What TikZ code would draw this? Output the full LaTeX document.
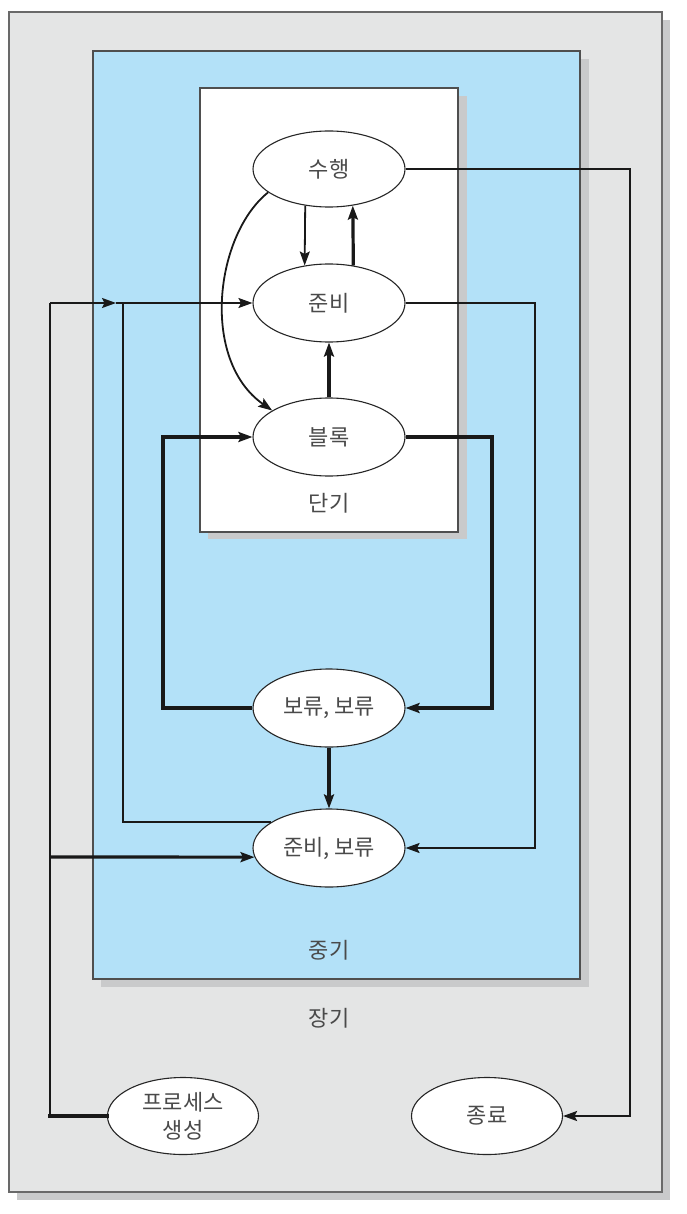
\documentclass[tikz,border=0pt]{standalone}
\usepackage{fontspec}
\setmainfont{Noto Sans CJK KR}
\usetikzlibrary{arrows.meta,shapes.geometric}
\definecolor{outergray}{HTML}{E4E5E5}
\definecolor{midblue}{HTML}{B3E1F8}
\definecolor{shadowgray}{HTML}{C9CACB}
\definecolor{edgegray}{HTML}{4F4F4F}
\definecolor{txtgray}{HTML}{4A4A4A}
\begin{document}
\begin{tikzpicture}[x=1pt,y=-1pt,
  state/.style={ellipse, draw=black!85, fill=white, line width=1.1pt,
    minimum width=152pt, minimum height=76pt, inner sep=0pt,
    font=\fontsize{22}{28}\selectfont, text=txtgray, align=center},
  lbl/.style={font=\fontsize{22}{26}\selectfont, text=txtgray},
  box/.style={draw=edgegray, line width=1.2pt},
  tip/.style={-{Stealth[length=14pt,width=10pt,inset=2.5pt]}},
  lnA/.style={line width=1.8pt, draw=black!90},
  lnB/.style={line width=3.2pt, draw=black!90},
]
\useasboundingbox (0,0) rectangle (686,1214);
\fill[white] (0,0) rectangle (686,1214);
% boxes with shadows
\fill[shadowgray] (17,20) rectangle (670,1200);
\fill[outergray] (9,12) rectangle (662,1192);
\draw[box, draw=edgegray!85] (9,12) rectangle (662,1192);
\fill[shadowgray] (101,59) rectangle (589,987);
\fill[midblue] (93,51) rectangle (580,979);
\draw[box] (93,51) rectangle (580,979);
\fill[shadowgray] (208,96) rectangle (467,539);
\fill[white] (200,88) rectangle (458,532);
\draw[box] (200,88) rectangle (458,532);
% labels
\node[lbl] (tshort) at (329,503) {단기};
\node[lbl] (tmid) at (329,950) {중기};
\node[lbl] (tlong) at (329,1018) {장기};
% states
\node[state] (run) at (329,169) {수행};
\node[state, minimum height=78pt] (ready) at (329,303) {준비};
\node[state, minimum height=78pt] (blocked) at (329,437) {블록};
\node[state, minimum height=78pt] (bsusp) at (329,708) {보류, 보류};
\node[state, minimum height=78pt] (rsusp) at (329,848) {준비, 보류};
\node[state, minimum width=151pt, minimum height=77pt] (new) at (183,1116) {프로세스\\생성};
\node[state, minimum width=151pt, minimum height=77pt] (exit) at (487,1116) {종료};
% helper coordinates
\coordinate (ltop) at (50,303);
\coordinate (lbr) at (50,857);
\coordinate (lbot) at (50,1116);
\coordinate (amid) at (116,303);
\coordinate (jn) at (123,303);
\coordinate (xL3) at (163,0);
\coordinate (xR1) at (492,0);
\coordinate (xR2) at (535,0);
\coordinate (xR3) at (630,0);
% short-term transitions
\draw[lnA, tip] (run.237) -- (ready.123);
\draw[lnB, tip] (ready.57) -- (run.303);
\draw[lnB, tip] (blocked.north) -- (ready.south);
\draw[lnA, tip] (run.201) .. controls (215,235) and (200,360) .. (blocked.155);
% medium-term transitions
\draw[lnA, tip] (ready.east) -- (ready.east -| xR2) |- (rsusp.east);
\draw[lnB, tip] (blocked.east) -- (blocked.east -| xR1) |- (bsusp.east);
\draw[lnB, tip] (bsusp.west) -- (bsusp.west -| xL3) |- (blocked.west);
\draw[lnB, tip] (bsusp.south) -- (rsusp.north);
\draw[lnA] (rsusp.156) -| (jn);
% long-term transitions
\draw[lnA, line width=2.2pt] (lbot) -- (ltop);
\draw[lnB, line cap=rect] (new.west) -- (lbot);
\draw[lnA, tip] (ltop) -- (amid);
\draw[lnA, tip] (amid) -- (ready.west);
\draw[lnB, tip] (lbr) -- (rsusp.187);
\draw[lnA, tip] (run.east) -- (run.east -| xR3) |- (exit.east);
\end{tikzpicture}
\end{document}
